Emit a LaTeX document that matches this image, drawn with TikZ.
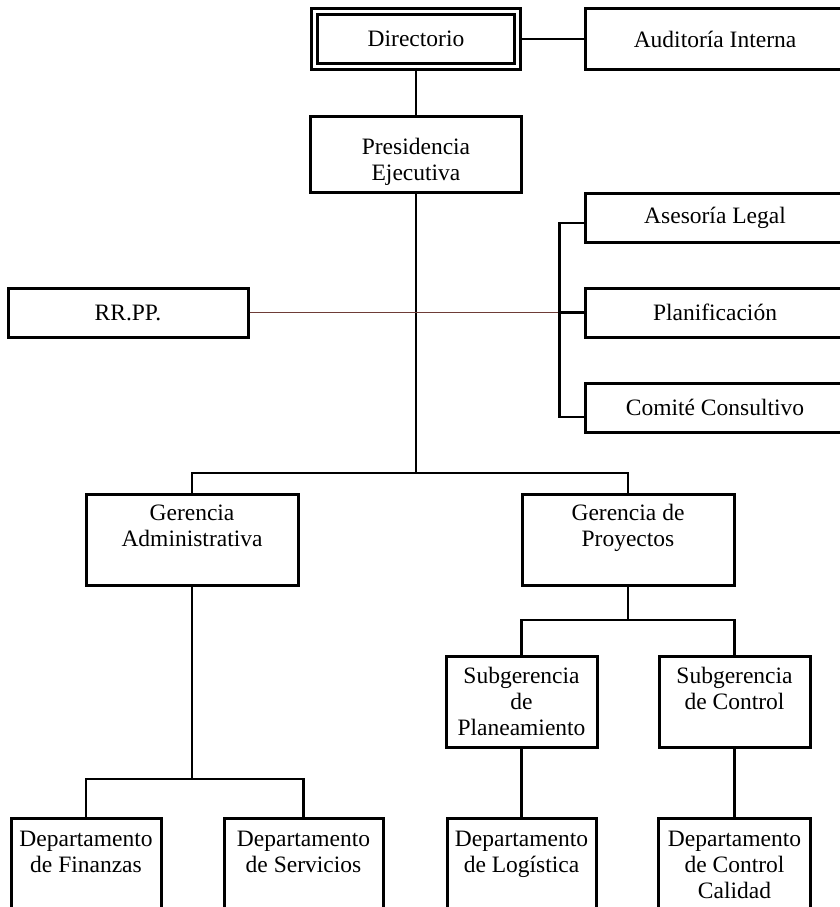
\documentclass[tikz,border=0pt]{standalone}
\usepackage{fontspec}
\setmainfont{Liberation Serif}
\usepackage{tikz}
\usetikzlibrary{positioning, calc}
\definecolor{staffline}{RGB}{110,60,55}
\tikzstyle{link} = [line width=2.2pt]
\tikzstyle{staff} = [line width=1.2pt, staffline]

\begin{document}
\begin{tikzpicture}[x=1pt, y=-1pt,
  box/.style={rectangle, draw, line width=3pt, align=center, font=\fontsize{23.5}{26}\selectfont},
  tbox/.style={box, anchor=north, inner ysep=0pt},
  board/.style={box, double, line width=3pt, double distance=2.5pt}]

  \useasboundingbox (0,0) rectangle (840,907);
  \fill[white] (0,0) rectangle (840,907);
  \clip (0,0) rectangle (840,907);

  \node[board, minimum width=203pt, minimum height=55pt] (dir) at (416,39) {Directorio};
  \node[box, minimum width=260pt, minimum height=61pt] (aud) at (715,39) {Auditoría Interna};
  \node[tbox, minimum width=211pt, text height=64pt, text depth=12pt] (pres) at (416,115) {Presidencia\\Ejecutiva};

  \node[box, minimum width=260pt, minimum height=49pt] (ase) at (715,217.5) {Asesoría Legal};
  \node[box, minimum width=260pt, minimum height=49pt] (plan) at (715,312.5) {Planificación};
  \node[box, minimum width=260pt, minimum height=49pt] (com) at (715,407.5) {Comité Consultivo};
  \node[box, minimum width=240pt, minimum height=49pt] (rrpp) at (128,312.5) {RR.PP.};

  \node[tbox, minimum width=212pt, text height=52pt, text depth=39pt] (ga) at (192,493) {Gerencia\\Administrativa};
  \node[tbox, minimum width=212pt, text height=52pt, text depth=39pt] (gp) at (628,493) {Gerencia de\\Proyectos};

  \node[tbox, minimum width=151pt, text height=79pt, text depth=12pt] (subplan) at (521.5,655) {Subgerencia\\de\\Planeamiento};
  \node[tbox, minimum width=151pt, text height=53pt, text depth=38pt] (subctl) at (734.5,655) {Subgerencia\\de Control};

  \node[tbox, minimum width=150pt, text height=54pt, text depth=54pt] (fin) at (86,817) {Departamento\\de Finanzas};
  \node[tbox, minimum width=159pt, text height=54pt, text depth=54pt] (serv) at (303.5,817) {Departamento\\de Servicios};
  \node[tbox, minimum width=149pt, text height=54pt, text depth=54pt] (log) at (521.5,817) {Departamento\\de Logística};
  \node[tbox, minimum width=152pt, text height=80pt, text depth=28pt] (cc) at (734.5,817) {Departamento\\de Control\\Calidad};

  \coordinate (j1) at (416,473);
  \coordinate (j2) at (192,779);
  \coordinate (j3) at (628,620);

  \draw[link] (dir) -- (aud);
  \draw[link] (dir) -- (pres);
  \draw[link] (pres) -- (j1);
  \draw[staff] (rrpp) -- (plan);
  \draw[link] ([yshift=-5.5pt]ase.west) -- ++(-24,0) |- ([yshift=-9.5pt]com.west);
  \draw[link] (plan.west) -- ++(-24,0);
  \draw[link] (ga) |- (j1) -| (gp);
  \draw[link] (ga) -- (j2);
  \draw[link] (fin) |- (j2) -| (serv);
  \draw[link] (gp) -- (j3);
  \draw[link] (subplan) |- (j3) -| (subctl);
  \draw[link] (subplan) -- (log);
  \draw[link] (subctl) -- (cc);
\end{tikzpicture}
\end{document}
